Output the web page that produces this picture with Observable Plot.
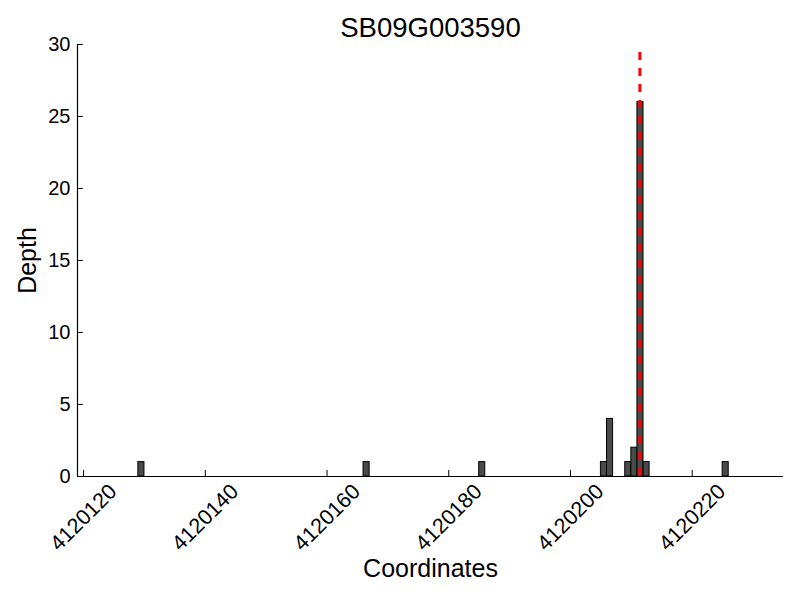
<!DOCTYPE html>
<html>
<head>
<meta charset="utf-8">
<script src="https://cdn.jsdelivr.net/npm/d3@7"></script>
<script src="https://cdn.jsdelivr.net/npm/@observablehq/plot@0.6"></script>
<style>
  html, body { margin: 0; padding: 0; background: #fff; }
  #chart svg { display: block; }
</style>
</head>
<body>
<div id="chart"></div>
<script>
const title = "SB09G003590";
const xLabel = "Coordinates";
const yLabel = "Depth";
const binStart = [4120129, 4120166, 4120185, 4120205, 4120206, 4120209, 4120210, 4120211, 4120212, 4120225];
const binWidth = 1;
const depth = [1, 1, 1, 1, 4, 1, 2, 26, 1, 1];
const markerPos = 4120211.4;
const markerTop = 29.5;
const xTicks = [4120120, 4120140, 4120160, 4120180, 4120200, 4120220];
const yTicks = [0, 5, 10, 15, 20, 25, 30];
const xDomain = [4120119, 4120235];
const yDomain = [0, 30];

const bars = binStart.map((s, i) => ({x1: s, x2: s + binWidth, y: depth[i]}));

const W = 800, H = 600;
const mL = 77, mR = 17, mT = 44, mB = 124;
const frameW = W - mL - mR, frameH = H - mT - mB;

const chart = Plot.plot({
  width: W,
  height: H,
  marginLeft: mL,
  marginRight: mR,
  marginTop: mT,
  marginBottom: mB,
  style: {fontFamily: "'Liberation Sans', Arial, sans-serif", background: "#fff", color: "#000"},
  x: {domain: xDomain, axis: null},
  y: {domain: yDomain, axis: null},
  marks: [
    Plot.rectY(bars, {x1: "x1", x2: "x2", y: "y", fill: "#4a4a4a", stroke: "#000", strokeWidth: 1}),
    Plot.ruleX([markerPos], {y1: 0, y2: markerTop, stroke: "#ff0000", strokeWidth: 3, strokeDasharray: "8,8"}),
    Plot.ruleX([xDomain[0]], {stroke: "#000", strokeWidth: 1.2}),
    Plot.ruleY([0], {stroke: "#000", strokeWidth: 1.2}),
    Plot.tickX(xTicks, {x: d => d, stroke: "#000", insetTop: frameH - 6}),
    Plot.tickY(yTicks, {y: d => d, stroke: "#000", insetRight: frameW - 6}),
    Plot.axisY({ticks: yTicks, tickSize: 0, tickPadding: 7, fontSize: 20, label: null, tickFormat: d => String(d)}),
    Plot.text(xTicks, {x: d => d, text: d => String(d), frameAnchor: "bottom", dy: 41, rotate: -45, textAnchor: "middle", lineAnchor: "middle", fontSize: 21.5, fill: "#000"}),
    Plot.text([title], {frameAnchor: "top", dy: -16, fontSize: 27.5, fill: "#000", textAnchor: "middle", lineAnchor: "middle"}),
    Plot.text([xLabel], {frameAnchor: "bottom", dy: 92, fontSize: 25, fill: "#000", textAnchor: "middle", lineAnchor: "middle"}),
    Plot.text([yLabel], {frameAnchor: "left", dx: -50, rotate: -90, fontSize: 25, fill: "#000", textAnchor: "middle", lineAnchor: "middle"})
  ]
});
document.getElementById("chart").appendChild(chart);
</script>
</body>
</html>
